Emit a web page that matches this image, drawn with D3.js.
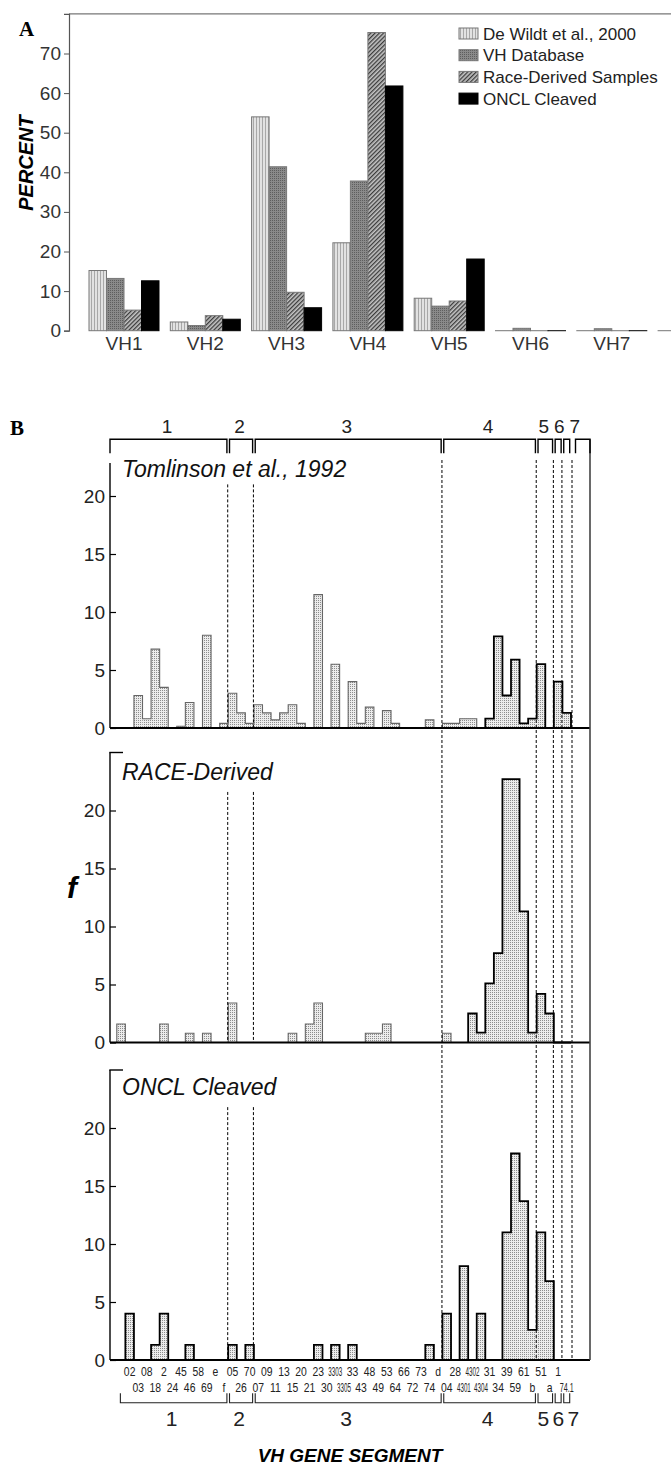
<!DOCTYPE html>
<html>
<head>
<meta charset="utf-8">
<script src="https://cdn.jsdelivr.net/npm/d3@7"></script>
<style>
  body { margin: 0; background: #fff; }
  svg { display: block; font-family: "Liberation Sans", Arial, sans-serif; }
</style>
</head>
<body>
<div id="chart"></div>
<script>
// ---- panel A data (percent of VH family usage)
let groups = ["VH1", "VH2", "VH3", "VH4", "VH5", "VH6", "VH7", ""];
let seriesNames = ["De Wildt et al., 2000", "VH Database", "Race-Derived Samples", "ONCL Cleaved"];
let deWildt     = [15.2, 2.2, 54.0, 22.2,  8.2, 0,   0,   0];
let vhDatabase  = [13.2, 1.3, 41.4, 37.8,  6.2, 0.6, 0.5, 0];
let raceDerived = [ 5.2, 3.8,  9.7, 75.3,  7.5, 0,   0,   0];
let onclCleaved = [12.6, 2.9,  5.8, 61.8, 18.1, 0,   0,   0];
let percentTicks = [0, 10, 20, 30, 40, 50, 60, 70];

// ---- panel B data (frequency per VH gene segment)
let segments = ["",
  "02","03","08","18","2","24","45","46","58","69","e","f",
  "05","26","70",
  "07","09","11","13","15","20","21","23","30","3303","3305","33","43","48","49","53","64","66","72","73","74","d",
  "04","28","4301","4302","4304","31","34","39","59","61","b",
  "51","a",
  "1",
  "74.1"];
let families = ["1", "2", "3", "4", "5", "6", "7"];
let familyFirst = ["02", "05", "07", "04", "51", "1", "74.1"];
let familyLast  = ["f", "70", "d", "b", "a", "1", "74.1"];

let tomlinson = [0,
  0, 2.8, 0.8, 6.8, 3.5, 0, 0.15, 2.2, 0, 8.0, 0, 0.4,
  3.0, 1.3, 0.4,
  2.0, 1.3, 0.7, 1.3, 2.0, 0.4, 0, 11.5, 0, 5.5, 0, 4.0, 0.4, 1.8, 0, 1.5, 0.4, 0, 0, 0, 0.7, 0,
  0.4, 0.4, 0.8, 0.8, 0, 0.8, 7.9, 2.8, 5.9, 0.4, 0.8,
  5.5, 0,
  4.0,
  1.3];
let raceB = [1.6,
  0, 0, 0, 0, 1.6, 0, 0, 0.8, 0, 0.8, 0, 0,
  3.4, 0, 0,
  0, 0, 0, 0, 0.8, 0, 1.6, 3.4, 0, 0, 0, 0, 0, 0.8, 0.8, 1.6, 0, 0, 0, 0, 0, 0,
  0.8, 0, 0, 2.5, 0.85, 5.1, 7.7, 22.7, 22.7, 11.3, 0.85,
  4.2, 2.5,
  0,
  0];
let onclB = [0,
  4.0, 0, 0, 1.3, 4.0, 0, 0, 1.3, 0, 0, 0, 0,
  1.3, 0, 1.3,
  0, 0, 0, 0, 0, 0, 0, 1.3, 0, 1.3, 0, 1.3, 0, 0, 0, 0, 0, 0, 0, 0, 1.3, 0,
  4.0, 0, 8.1, 0, 4.0, 0, 0, 11.0, 17.8, 13.7, 2.6,
  11.0, 6.8,
  0,
  0];
let freqTicks = [0, 5, 10, 15, 20];

const W = 671, H = 1466;
const svg = d3.select("#chart").append("svg").attr("width", W).attr("height", H);
const defs = svg.append("defs");

function pattern(id, size, bg, draw, rot) {
  let p = defs.append("pattern").attr("id", id)
    .attr("patternUnits", "userSpaceOnUse")
    .attr("width", size).attr("height", size);
  if (rot) p.attr("patternTransform", "rotate(" + rot + ")");
  p.append("rect").attr("width", size).attr("height", size).attr("fill", bg);
  draw(p);
}
pattern("pDeWildt", 3, "#e2e2e2", p => p.append("rect").attr("x", 1).attr("width", 1).attr("height", 3).attr("fill", "#a8a8a8"));
pattern("pDb", 2, "#8a8a8a", p => p.append("rect").attr("width", 1).attr("height", 1).attr("fill", "#5e5e5e"));
pattern("pRace", 3, "#c4c4c4", p => p.append("rect").attr("width", 1.3).attr("height", 3).attr("fill", "#3c3c3c"), 45);
pattern("pStip", 2, "#ececec", p => p.append("rect").attr("width", 1).attr("height", 1).attr("fill", "#8c8c8c"));

// =================== PANEL A ===================
let seriesValues = [deWildt, vhDatabase, raceDerived, onclCleaved];
let seriesFill = ["url(#pDeWildt)", "url(#pDb)", "url(#pRace)", "#000"];

let xA = d3.scaleBand().domain(groups).range([83.35, 733.75]).paddingInner(0.139).paddingOuter(0.0695);
let xSub = d3.scaleBand().domain(d3.range(seriesNames.length)).range([0, xA.bandwidth()]);
let yA = d3.scaleLinear().domain([0, 80]).range([330.7, 13.9]);

let gA = svg.append("g");
gA.append("text").attr("x", 19).attr("y", 36)
  .style("font-family", "'Liberation Serif', 'Times New Roman', serif")
  .style("font-weight", "bold").style("font-size", "21px").text("A");

// top frame line
gA.append("line").attr("x1", 69).attr("x2", W).attr("y1", yA(80)).attr("y2", yA(80))
  .attr("stroke", "#777").attr("stroke-width", 1.2);

let axA = gA.append("g").attr("transform", "translate(69,0)")
  .call(d3.axisLeft(yA).tickValues(percentTicks).tickSizeOuter(0).tickSize(5).tickPadding(3));
axA.select(".domain").attr("stroke", "#555").attr("stroke-width", 1.2);
axA.selectAll(".tick line").attr("stroke", "#555");
axA.selectAll("text").style("font-size", "19px").attr("fill", "#333");

gA.append("text")
  .attr("transform", "translate(33,163) rotate(-90)")
  .attr("text-anchor", "middle")
  .style("font-size", "20px").style("font-weight", "bold").style("font-style", "italic")
  .text("PERCENT");

let barsA = gA.append("g");
seriesValues.forEach((vals, s) => {
  barsA.selectAll(null).data(groups.map((g, i) => ({ g: g, v: vals[i] })))
    .enter().append("rect")
    .attr("x", d => xA(d.g) + xSub(s))
    .attr("y", d => yA(d.v))
    .attr("width", xSub.bandwidth())
    .attr("height", d => Math.max(0.01, yA(0) - yA(d.v)))
    .attr("fill", seriesFill[s])
    .attr("stroke", s === 3 ? "#000" : "#777")
    .attr("stroke-width", 1);
});

let axAx = gA.append("g").attr("transform", "translate(0," + yA(0) + ")")
  .call(d3.axisBottom(xA).tickSize(0).tickPadding(6));
axAx.select(".domain").remove();
axAx.selectAll("text").style("font-size", "19px").attr("fill", "#333");

// legend
let leg = gA.append("g");
seriesNames.forEach((n, s) => {
  let yy = 33.5 + s * 21.7;
  leg.append("rect").attr("x", 459).attr("y", yy - 5.5).attr("width", 19).attr("height", 11)
    .attr("fill", seriesFill[s]).attr("stroke", s === 3 ? "#000" : "#777");
  leg.append("text").attr("x", 483).attr("y", yy + 6)
    .style("font-size", "17px").attr("fill", "#222").text(n);
});

// =================== PANEL B ===================
let xB = d3.scaleBand().domain(segments).range([116.8, 571]);
let bw = xB.bandwidth();
const leftB = 110, rightB = 590, unit = 11.6;

let gB = svg.append("g");
gB.append("text").attr("x", 10).attr("y", 435)
  .style("font-family", "'Liberation Serif', 'Times New Roman', serif")
  .style("font-weight", "bold").style("font-size", "21px").text("B");

let panels = [
  { title: "Tomlinson et al., 1992", values: tomlinson, base: 728, titleY: 476.5, axisTop: 22.85, corner: false, darkFrom: 43, dashTop: 21.0 },
  { title: "RACE-Derived", values: raceB, base: 1042.5, titleY: 779.5, axisTop: 25, corner: true, darkFrom: 41, dashTop: 21.6 },
  { title: "ONCL Cleaved", values: onclB, base: 1360, titleY: 1094.5, axisTop: 25, corner: true, darkFrom: 0, dashTop: 21.8 }
];

function stepPts(vals, y, a, b) {
  let pts = [[xB(segments[a]), y(0)]];
  for (let j = a; j <= b; j++) {
    pts.push([xB(segments[j]), y(vals[j])]);
    pts.push([xB(segments[j]) + bw, y(vals[j])]);
  }
  pts.push([xB(segments[b]) + bw, y(0)]);
  return pts;
}

panels.forEach(p => {
  let y = d3.scaleLinear().domain([0, 25]).range([p.base, p.base - 25 * unit]);
  let g = gB.append("g");

  // bars
  g.selectAll("rect.bar").data(segments.map((s, j) => ({ s: s, v: p.values[j] })).filter(d => d.v > 0))
    .enter().append("rect").attr("class", "bar")
    .attr("x", d => xB(d.s)).attr("y", d => y(d.v))
    .attr("width", bw).attr("height", d => y(0) - y(d.v))
    .attr("fill", "url(#pStip)");

  let line = d3.line();
  if (p.darkFrom > 0) {
    g.append("path").attr("d", line(stepPts(p.values, y, 0, p.darkFrom - 1)))
      .attr("fill", "none").attr("stroke", "#666").attr("stroke-width", 1.1);
  }
  g.append("path").attr("d", line(stepPts(p.values, y, p.darkFrom, segments.length - 1)))
    .attr("fill", "none").attr("stroke", "#000").attr("stroke-width", 1.8);

  // family 1/2 and 2/3 dashed separators inside each panel
  ["05", "07"].forEach(s => {
    g.append("line").attr("x1", xB(s) - 0.5).attr("x2", xB(s) - 0.5)
      .attr("y1", y(p.dashTop)).attr("y2", y(0))
      .attr("stroke", "#000").attr("stroke-width", 1).attr("stroke-dasharray", "3,2");
  });

  // y axis
  let ax = g.append("g").attr("transform", "translate(" + leftB + ",0)")
    .call(d3.axisLeft(y).tickValues(freqTicks).tickSizeInner(-6).tickSizeOuter(0).tickPadding(5));
  ax.select(".domain").remove();
  ax.selectAll(".tick line").attr("stroke", "#000").attr("stroke-width", 1.2);
  ax.selectAll("text").style("font-size", "19px").attr("fill", "#222");
  g.append("line").attr("x1", leftB).attr("x2", leftB).attr("y1", y(p.axisTop)).attr("y2", y(0))
    .attr("stroke", "#000").attr("stroke-width", 1.4);
  if (p.corner) {
    g.append("line").attr("x1", leftB - 0.7).attr("x2", leftB + 13).attr("y1", y(p.axisTop)).attr("y2", y(p.axisTop))
      .attr("stroke", "#000").attr("stroke-width", 1.4);
  }
  // baseline
  g.append("line").attr("x1", leftB).attr("x2", rightB).attr("y1", y(0)).attr("y2", y(0))
    .attr("stroke", "#000").attr("stroke-width", 2);

  g.append("text").attr("x", 122).attr("y", p.titleY)
    .style("font-size", "23px").style("font-style", "italic").attr("fill", "#111")
    .text(p.title);
});

// continuous dashed separators (families 3/4, 4/5, 5/6, 6/7, end of 7)
["04", "51", "1", "74.1"].forEach(s => {
  gB.append("line").attr("x1", xB(s) - 0.5).attr("x2", xB(s) - 0.5).attr("y1", 460).attr("y2", 1360)
    .attr("stroke", "#000").attr("stroke-width", 1).attr("stroke-dasharray", "3,2");
});
gB.append("line").attr("x1", xB("74.1") + bw + 1).attr("x2", xB("74.1") + bw + 1).attr("y1", 460).attr("y2", 1360)
  .attr("stroke", "#000").attr("stroke-width", 1).attr("stroke-dasharray", "3,2");

// right frame
gB.append("line").attr("x1", rightB).attr("x2", rightB).attr("y1", 439.3).attr("y2", 1360)
  .attr("stroke", "#444").attr("stroke-width", 1.6);

// spread label centres so the narrow families 5-7 do not collide
function spread(xs, gap) {
  let out = xs.slice();
  for (let k = 1; k < out.length; k++) if (out[k] - out[k - 1] < gap) out[k] = out[k - 1] + gap;
  return out;
}
let bracketPath = (a, b, yl, yt) => "M" + a + "," + yt + "V" + yl + "H" + b + "V" + yt;

// top family brackets
let topY = 439.3, topTick = 453.3;
let topBr = families.map((f, k) => ({
  a: k === 0 ? leftB : xB(familyFirst[k]) + 1.3,
  b: xB(familyLast[k]) + bw - 1.3
}));
let topLx = spread(topBr.map(d => (d.a + d.b) / 2 - 1.5), 15.5);
topBr.forEach((d, k) => {
  gB.append("path").attr("d", bracketPath(d.a, d.b, topY, topTick))
    .attr("fill", "none").attr("stroke", "#000").attr("stroke-width", 1.4);
  gB.append("text").attr("x", topLx[k]).attr("y", 433).attr("text-anchor", "middle")
    .style("font-size", "19px").attr("fill", "#222").text(families[k]);
});
gB.append("path").attr("d", bracketPath(xB("74.1") + bw + 4.5, rightB, topY, topTick))
  .attr("fill", "none").attr("stroke", "#000").attr("stroke-width", 1.4);

// segment labels, two staggered rows, squeezed horizontally like the original
let labG = gB.append("g");
segments.forEach((s, j) => {
  if (s === "") return;
  let t = labG.append("text").attr("text-anchor", "middle")
    .style("font-size", s.length > 2 ? "12px" : "13px").attr("fill", "#222").text(s);
  let w = t.node().getComputedTextLength();
  let sx = s.length > 2 ? 14 / w : 0.8;
  t.attr("transform", "translate(" + (xB(s) + bw / 2) + "," + (j % 2 === 1 ? 1376.3 : 1392) + ") scale(" + sx + ",1)");
});

// bottom family brackets
let botY = 1402.7, botTick = 1393.3;
let botBr = families.map((f, k) => ({
  a: k === 0 ? xB(familyFirst[k]) - 5 : xB(familyFirst[k]) + 1.3,
  b: xB(familyLast[k]) + bw - 1.3
}));
let botLx = spread(botBr.map(d => (d.a + d.b) / 2 - 2), 15);
botBr.forEach((d, k) => {
  labG.append("path").attr("d", bracketPath(d.a, d.b, botY, botTick))
    .attr("fill", "none").attr("stroke", "#222").attr("stroke-width", 1.1);
  labG.append("text").attr("x", botLx[k]).attr("y", 1426).attr("text-anchor", "middle")
    .style("font-size", "21px").attr("fill", "#222").text(families[k]);
});

gB.append("text").attr("x", 350).attr("y", 1462).attr("text-anchor", "middle")
  .style("font-size", "19px").style("font-weight", "bold").style("font-style", "italic")
  .text("VH GENE SEGMENT");

gB.append("text").attr("x", 72).attr("y", 898).attr("text-anchor", "middle")
  .style("font-size", "30px").style("font-weight", "bold").style("font-style", "italic")
  .text("f");
</script>
</body>
</html>
